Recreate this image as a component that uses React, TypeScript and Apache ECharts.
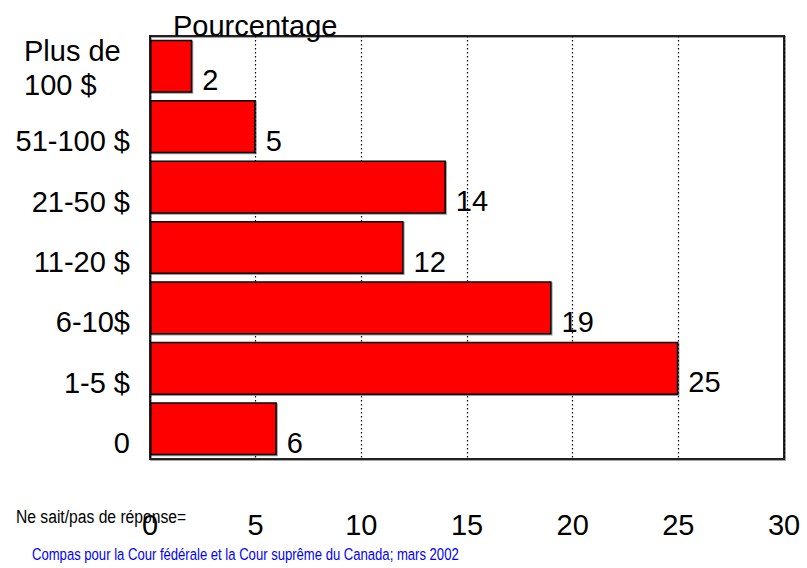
import React, { useEffect, useRef } from "react";
import * as echarts from "echarts";

const categories = ["0", "1-5 $", "6-10$", "11-20 $", "21-50 $", "51-100 $", "Plus de\n100 $"];
const values = [6, 25, 19, 12, 14, 5, 2];
const xTicks = [0, 5, 10, 15, 20, 25, 30];
const axisName = "Pourcentage";
const noteText = "Ne sait/pas de réponse=";
const sourceText = "Compas pour la Cour fédérale et la Cour suprême du Canada; mars 2002";

const FONT = "'Liberation Sans', Arial, sans-serif";

export default function App() {
  const ref = useRef<HTMLDivElement>(null);
  useEffect(() => {
    if (!ref.current) return;
    const chart = echarts.init(ref.current, null, { renderer: "svg" });
    chart.setOption({
      animation: false,
      backgroundColor: "#fff",
      textStyle: { fontFamily: FONT },
      grid: {
        left: 150,
        right: 23,
        top: 36,
        bottom: 109,
        show: true,
        borderColor: "#222",
        borderWidth: 2,
        shadowColor: "rgba(0,0,0,0.35)",
        shadowOffsetX: 1,
        shadowOffsetY: 1,
        shadowBlur: 1,
      },
      xAxis: {
        type: "value",
        min: xTicks[0],
        max: xTicks[xTicks.length - 1],
        interval: 5,
        axisLine: { show: false },
        axisTick: { show: false },
        axisLabel: {
          color: "#000",
          fontSize: 29,
          fontFamily: FONT,
          margin: 51,
          showMinLabel: true,
          showMaxLabel: true,
        },
        splitLine: { show: true, lineStyle: { color: "#000", type: [1.5, 2.5], width: 1.2 } },
      },
      yAxis: {
        type: "category",
        data: categories,
        axisLine: { show: false },
        axisTick: { show: false },
        axisLabel: {
          color: "#000",
          fontSize: 29,
          fontFamily: FONT,
          margin: 20,
          formatter: (v: string) => {
            if (v.indexOf("\n") >= 0) {
              return v
                .split("\n")
                .map((l) => "{m|" + l + "}")
                .join("\n");
            }
            return "{s|" + v + "}";
          },
          rich: {
            s: { fontSize: 29, fontFamily: FONT, color: "#000", padding: [29, 0, 0, 0] },
            m: {
              fontSize: 29,
              fontFamily: FONT,
              color: "#000",
              width: 106,
              align: "left",
              lineHeight: 34,
              padding: [4, 0, 0, 0],
            },
          },
        },
        splitLine: { show: false },
      },
      series: [
        {
          type: "bar",
          data: values,
          barCategoryGap: "12%",
          itemStyle: {
            color: "#ff0000",
            borderColor: "#000",
            borderWidth: 1.5,
            shadowColor: "rgba(0,0,0,0.4)",
            shadowOffsetX: 1,
            shadowOffsetY: 1,
            shadowBlur: 0,
          },
          label: {
            show: true,
            position: "right",
            distance: 10,
            offset: [0, 14],
            color: "#000",
            fontSize: 29,
            fontFamily: FONT,
          },
        },
      ],
      graphic: [
        {
          type: "text",
          left: 173,
          top: 11,
          style: { text: axisName, fontSize: 29, fontFamily: FONT, fill: "#000" },
        },
        {
          type: "text",
          x: 16,
          y: 508,
          scaleX: 0.87,
          style: { text: noteText, fontSize: 18, fontFamily: FONT, fill: "#000" },
        },
        {
          type: "text",
          x: 32,
          y: 545,
          scaleX: 0.77,
          style: { text: sourceText, fontSize: 17, fontFamily: FONT, fill: "#0000ff" },
        },
      ],
    });
    return () => chart.dispose();
  }, []);
  return (
    <div
      ref={ref}
      style={{ position: "absolute", left: 0, top: 0, width: 807, height: 568 }}
    />
  );
}
